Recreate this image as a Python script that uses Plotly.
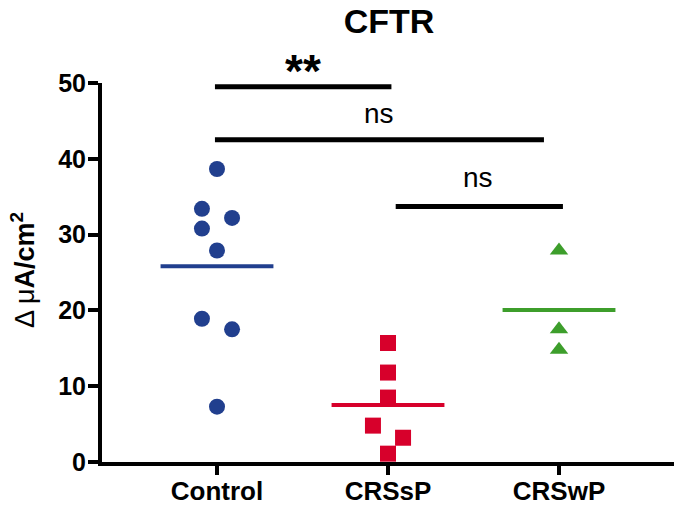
import numpy as np
import plotly.graph_objects as go

# ---- data ----
categories = ["Control", "CRSsP", "CRSwP"]
control_values = [38.65, 33.4, 32.2, 30.8, 27.9, 18.9, 17.5, 7.3]
crssp_values = [15.7, 11.8, 8.5, 4.8, 3.2, 1.1]
crswp_values = [27.9, 17.5, 14.8]
y_ticks = [0, 10, 20, 30, 40, 50]
title_text = "CFTR"

# ---- layout-only helpers (jitter positions, styles) ----
control_jitter = [0, -1, 1, -1, 0, -1, 1, 0]
crssp_jitter = [0, 0, 0, -1, 1, 0]
crswp_jitter = [0, 0, 0]
JIT = 0.088
HALF = 0.33

groups = [
    (control_values, control_jitter, "circle", "#213f8e"),
    (crssp_values, crssp_jitter, "square", "#d7002b"),
    (crswp_values, crswp_jitter, "triangle-up", "#3d9e2b"),
]

FONT = "Liberation Sans, Arial, sans-serif"
fig = go.Figure()

for i, (vals, jit, sym, col) in enumerate(groups):
    xs = [i + j * JIT for j in jit]
    fig.add_trace(go.Scatter(
        x=xs, y=vals, mode="markers",
        marker=dict(symbol=sym, size=16, color=col, line=dict(width=0)),
        cliponaxis=False, showlegend=False, hoverinfo="y"))
    m = float(np.mean(vals))
    fig.add_trace(go.Scatter(
        x=[i - HALF, i + HALF], y=[m, m], mode="lines",
        line=dict(color=col, width=4), showlegend=False, hoverinfo="skip"))

# significance bars
bars = [(-0.012, 1.02, 49.5), (-0.012, 1.912, 42.5), (1.045, 2.023, 33.7)]
for x0, x1, yy in bars:
    fig.add_shape(type="line", xref="x", yref="y", x0=x0, x1=x1, y0=yy, y1=yy,
                  line=dict(color="black", width=5))

fig.add_annotation(x=0.503, y=1.032, xref="x", yref="paper", text="<b>**</b>",
                   showarrow=False, yanchor="middle",
                   font=dict(family=FONT, size=46, color="black"))
fig.add_annotation(x=0.947, y=46.0, xref="x", yref="y", text="ns",
                   showarrow=False, font=dict(family=FONT, size=28, color="black"))
fig.add_annotation(x=1.526, y=37.5, xref="x", yref="y", text="ns",
                   showarrow=False, font=dict(family=FONT, size=28, color="black"))

# y-axis title
fig.add_annotation(x=-0.138, y=0.5066, xref="paper", yref="paper",
                   text="Δ μ<b>A/cm<sup>2</sup></b>", textangle=-90,
                   showarrow=False, xanchor="center", yanchor="middle",
                   font=dict(family=FONT, size=27, color="black"))

fig.update_layout(
    width=680, height=508,
    margin=dict(l=102, r=6, t=83, b=46, autoexpand=False),
    paper_bgcolor="white", plot_bgcolor="white",
    title=dict(text="<b>" + title_text + "</b>", x=0.572, xanchor="center",
               y=1 - 21 / 508, yanchor="middle",
               font=dict(family=FONT, size=34, color="black")),
    xaxis=dict(range=[-0.6725, 2.6725], tickvals=list(range(len(categories))),
               ticktext=categories, showgrid=False, zeroline=False,
               showline=True, linecolor="black", linewidth=4,
               ticks="outside", ticklen=9, tickwidth=4, tickcolor="black",
               ticklabelstandoff=-6, automargin=False,
               tickfont=dict(family=FONT, size=26, color="black", weight="bold")),
    yaxis=dict(range=[0, 50], tickvals=y_ticks, showgrid=False, zeroline=False,
               showline=True, linecolor="black", linewidth=4,
               ticks="outside", ticklen=10, tickwidth=4, tickcolor="black",
               ticklabelstandoff=-3, automargin=False,
               tickfont=dict(family=FONT, size=25, color="black", weight="bold")),
)

fig.write_html("out.html", config={"displayModeBar": False},
               post_script="document.body.style.margin='0px';document.body.style.overflow='hidden';")
